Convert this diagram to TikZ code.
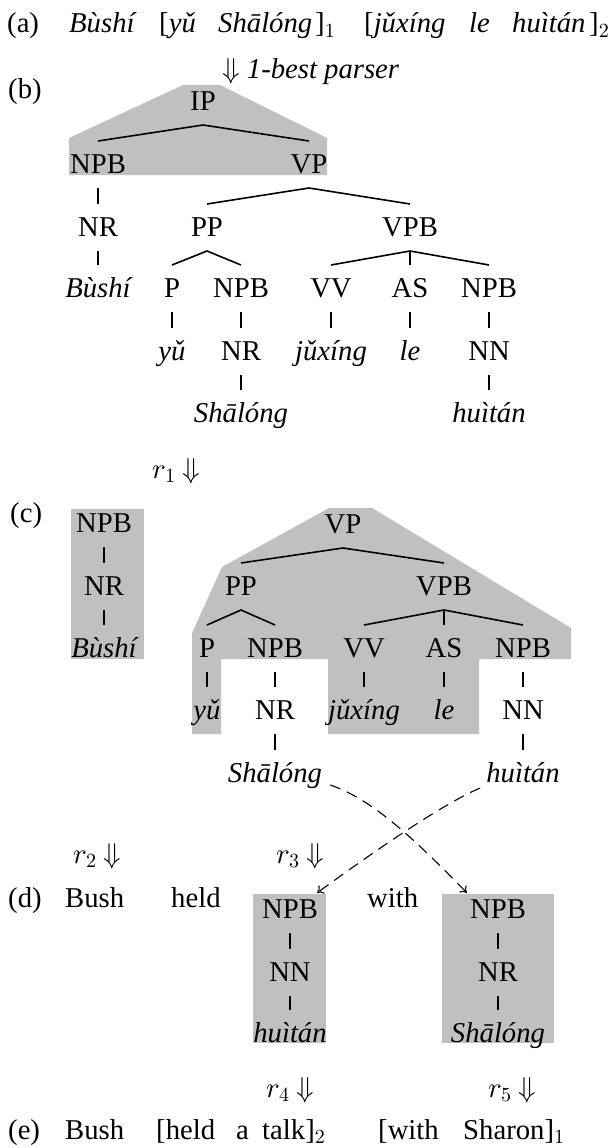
\documentclass[tikz,border=0pt]{standalone}
\usepackage[no-math]{fontspec}
\setmainfont{Liberation Serif}
\DeclareFontFamily{OML}{cmm}{\skewchar\font127 }
\DeclareFontShape{OML}{cmm}{m}{it}{<->cmmi10}{}
\DeclareFontFamily{OMS}{cmsy}{\skewchar\font48 }
\DeclareFontShape{OMS}{cmsy}{m}{n}{<->cmsy10}{}
\DeclareFontShape{OT1}{cmr}{m}{n}{<->cmr10}{}
\usetikzlibrary{arrows.meta}
\definecolor{boxgray}{RGB}{192,192,192}
\begin{document}
\begin{tikzpicture}[x=1pt,y=-1pt,
  font=\fontsize{28.7}{34}\selectfont,
  lbl/.style={anchor=base, inner sep=0pt},
  lw/.style={anchor=base west, inner sep=0pt},
  itl/.style={lbl, font=\fontsize{28.7}{34}\selectfont\itshape},
  edge/.style={line width=1.6pt},
  shade/.style={fill=boxgray, draw=none, inner sep=0pt},
  xfer/.style={dash pattern=on 11pt off 7pt, line width=1.1pt, -{To[length=6pt,width=10pt]}}]
\useasboundingbox (0,0) rectangle (614,1148);

% ---------- grey regions ----------
\fill[boxgray] (69,138) -- (183,85) -- (220,85) -- (327,138) -- (327,175) -- (69,175) -- cycle;
\fill[boxgray] (71,509) rectangle (144,659);
\fill[boxgray] (329,508) -- (372,508) -- (571,628) -- (571,659) -- (479,659) -- (479,734)
  -- (328,734) -- (328,659) -- (221,659) -- (221,734) -- (192,734) -- (192,633) -- (222,567) -- cycle;
\node[shade, minimum width=73pt, minimum height=149pt] (box1) at (289.5,968.5) {};
\node[shade, minimum width=112pt, minimum height=149pt] (box2) at (498,968.5) {};

% ---------- (a) ----------
\node[lw] (a0) at (7,33) {(a)};
\node[lw] (a1) at (69,33) {\itshape Bùshí};
\node[lw] (a2) at (159,33) {[\textit{yǔ}};
\node[lw] (a3) at (218,33) {\itshape Shālóng};
\node[lw] (a4) at (315,33) {]$_1$};
\node[lw] (a5) at (364,33) {[\textit{jǔxíng}};
\node[lw] (a6) at (469,33) {\itshape le};
\node[lw] (a7) at (512,33) {\itshape huìtán};
\node[lw] (a8) at (589,33) {]$_2$};
\node[lw] (parse) at (222,78) {$\Downarrow$ \textit{1-best parser}};

% ---------- (b) ----------
\node[lw] (lb) at (8,98) {(b)};
\node[lbl] (bIP) at (203,110) {IP};
\node[lbl] (bNPB) at (98,173) {NPB};
\node[lbl] (bVP) at (309,173) {VP};
\node[lbl] (bNR) at (98,236) {NR};
\node[lbl] (bPP) at (207,236) {PP};
\node[lbl] (bVPB) at (410,236) {VPB};
\node[itl] (bBu) at (98,297) {Bùshí};
\node[lbl] (bP) at (172,297) {P};
\node[lbl] (bNPBb) at (241,297) {NPB};
\node[lbl] (bVV) at (331,297) {VV};
\node[lbl] (bAS) at (410,297) {AS};
\node[lbl] (bNPBc) at (489,297) {NPB};
\node[itl] (bYu) at (172,360) {yǔ};
\node[lbl] (bNRb) at (241,360) {NR};
\node[itl] (bJu) at (331,360) {jǔxíng};
\node[itl] (bLe) at (410,360) {le};
\node[lbl] (bNN) at (489,360) {NN};
\node[itl] (bSha) at (241,422) {Shālóng};
\node[itl] (bHui) at (489,422) {huìtán};

\draw[edge] ([yshift=32pt]bNPB.base) -- ([yshift=-15pt]bIP.base) -- ([yshift=32pt]bVP.base);
\draw[edge] ([yshift=-15pt]bNPB.base) -- ([yshift=32pt]bNR.base);
\draw[edge] ([yshift=32pt]bPP.base) -- ([yshift=-15pt]bVP.base) -- ([yshift=32pt]bVPB.base);
\draw[edge] ([yshift=-15pt]bNR.base) -- ([yshift=32pt]bBu.base);
\draw[edge] ([yshift=32pt]bP.base) -- ([yshift=-15pt]bPP.base) -- ([yshift=32pt]bNPBb.base);
\draw[edge] ([yshift=32pt]bVV.base) -- ([yshift=-15pt]bVPB.base) -- ([yshift=32pt]bNPBc.base);
\draw[edge] ([yshift=-15pt]bVPB.base) -- ([yshift=32pt]bAS.base);
\draw[edge] ([yshift=-15pt]bP.base) -- ([yshift=32pt]bYu.base);
\draw[edge] ([yshift=-15pt]bNPBb.base) -- ([yshift=32pt]bNRb.base);
\draw[edge] ([yshift=-15pt]bVV.base) -- ([yshift=32pt]bJu.base);
\draw[edge] ([yshift=-15pt]bAS.base) -- ([yshift=32pt]bLe.base);
\draw[edge] ([yshift=-15pt]bNPBc.base) -- ([yshift=32pt]bNN.base);
\draw[edge] ([yshift=-15pt]bNRb.base) -- ([yshift=32pt]bSha.base);
\draw[edge] ([yshift=-15pt]bNN.base) -- ([yshift=32pt]bHui.base);

\node[lw] (r1) at (152,478) {$r_1$ $\Downarrow$};

% ---------- (c) ----------
\node[lw] (lc) at (10,522) {(c)};
\node[lbl] (cNPB) at (104,532) {NPB};
\node[lbl] (cNR) at (104,595) {NR};
\node[itl] (cBu) at (104,657) {Bùshí};
\node[lbl] (cVP) at (343,533) {VP};
\node[lbl] (cPP) at (241,595) {PP};
\node[lbl] (cVPB) at (444,595) {VPB};
\node[lbl] (cP) at (207,657) {P};
\node[lbl] (cNPBb) at (275,657) {NPB};
\node[lbl] (cVV) at (364,657) {VV};
\node[lbl] (cAS) at (444,657) {AS};
\node[lbl] (cNPBc) at (523,657) {NPB};
\node[itl] (cYu) at (207,719) {yǔ};
\node[lbl] (cNRb) at (275,719) {NR};
\node[itl] (cJu) at (364,719) {jǔxíng};
\node[itl] (cLe) at (444,719) {le};
\node[lbl] (cNN) at (523,719) {NN};
\node[itl] (cSha) at (275,782) {Shālóng};
\node[itl] (cHui) at (523,782) {huìtán};

\draw[edge] ([yshift=-15pt]cNPB.base) -- ([yshift=32pt]cNR.base);
\draw[edge] ([yshift=-15pt]cNR.base) -- ([yshift=32pt]cBu.base);
\draw[edge] ([yshift=32pt]cPP.base) -- ([yshift=-15pt]cVP.base) -- ([yshift=32pt]cVPB.base);
\draw[edge] ([yshift=32pt]cP.base) -- ([yshift=-15pt]cPP.base) -- ([yshift=32pt]cNPBb.base);
\draw[edge] ([yshift=32pt]cVV.base) -- ([yshift=-15pt]cVPB.base) -- ([yshift=32pt]cNPBc.base);
\draw[edge] ([yshift=-15pt]cVPB.base) -- ([yshift=32pt]cAS.base);
\draw[edge] ([yshift=-15pt]cP.base) -- ([yshift=32pt]cYu.base);
\draw[edge] ([yshift=-15pt]cNPBb.base) -- ([yshift=32pt]cNRb.base);
\draw[edge] ([yshift=-15pt]cVV.base) -- ([yshift=32pt]cJu.base);
\draw[edge] ([yshift=-15pt]cAS.base) -- ([yshift=32pt]cLe.base);
\draw[edge] ([yshift=-15pt]cNPBc.base) -- ([yshift=32pt]cNN.base);
\draw[edge] ([yshift=-15pt]cNRb.base) -- ([yshift=32pt]cSha.base);
\draw[edge] ([yshift=-15pt]cNN.base) -- ([yshift=32pt]cHui.base);

\node[lw] (r2) at (73,863) {$r_2$ $\Downarrow$};
\node[lw] (r3) at (276,863) {$r_3$ $\Downarrow$};

% ---------- (d) ----------
\node[lw] (ld) at (8,907) {(d)};
\node[lw] (dBush) at (65,907) {Bush};
\node[lw] (dHeld) at (171,907) {held};
\node[lw] (dWith) at (367,907) {with};
\node[lbl] (dNPBa) at (290,918) {NPB};
\node[lbl] (dNN) at (290,981) {NN};
\node[itl] (dHui) at (290,1042) {huìtán};
\node[lbl] (dNPBb) at (498,918) {NPB};
\node[lbl] (dNR) at (498,981) {NR};
\node[itl] (dSha) at (498,1042) {Shālóng};
\draw[edge] ([yshift=-15pt]dNPBa.base) -- ([yshift=32pt]dNN.base);
\draw[edge] ([yshift=-15pt]dNN.base) -- ([yshift=32pt]dHui.base);
\draw[edge] ([yshift=-15pt]dNPBb.base) -- ([yshift=32pt]dNR.base);
\draw[edge] ([yshift=-15pt]dNR.base) -- ([yshift=32pt]dSha.base);

% dashed reordering arrows
\draw[xfer] ([xshift=8pt,yshift=-3pt]cSha.base east) .. controls (375,800) and (420,845) .. ([xshift=25pt,yshift=1pt]box2.north west);
\draw[xfer] ([xshift=-6pt,yshift=-6pt]cHui.base west) .. controls (440,805) and (365,858) .. ([xshift=-9pt,yshift=1pt]box1.north east);

\node[lw] (r4) at (266,1097) {$r_4$ $\Downarrow$};
\node[lw] (r5) at (488,1097) {$r_5$ $\Downarrow$};

% ---------- (e) ----------
\node[lw] (le) at (8,1139) {(e)};
\node[lw] (e1) at (65,1139) {Bush};
\node[lw] (e2) at (156,1139) {[held};
\node[lw] (e3) at (236,1139) {a};
\node[lw] (e4) at (262,1139) {talk]$_2$};
\node[lw] (e5) at (378,1139) {[with};
\node[lw] (e6) at (463,1139) {Sharon]$_1$};
\end{tikzpicture}
\end{document}
